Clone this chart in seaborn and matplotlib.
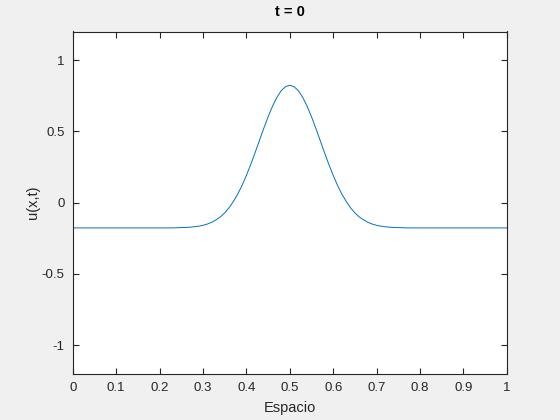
import numpy as np
import pandas as pd
import seaborn as sns
import matplotlib.pyplot as plt

# u(x, 0), x = 0.00 .. 1.00 in steps of 0.01
rise = [-0.176, -0.175, -0.174, -0.172, -0.169, -0.165, -0.159, -0.150, -0.138,
        -0.121, -0.100, -0.072, -0.036, 0.008, 0.060, 0.121, 0.191, 0.268,
        0.350, 0.436, 0.521, 0.602, 0.675, 0.737, 0.784, 0.813]
peak = [0.823]
u_vals = [-0.177] * 24 + rise + peak + rise[::-1] + [-0.177] * 24
x_vals = np.arange(len(u_vals)) / 100.0

xticks = [0, 0.1, 0.2, 0.3, 0.4, 0.5, 0.6, 0.7, 0.8, 0.9, 1]
xtick_labels = ["0", "0.1", "0.2", "0.3", "0.4", "0.5", "0.6", "0.7", "0.8", "0.9", "1"]
yticks = [-1, -0.5, 0, 0.5, 1]
ytick_labels = ["-1", "-0.5", "0", "0.5", "1"]

df = pd.DataFrame({"x": x_vals, "u": u_vals})

sns.set_style("ticks")
plt.rcParams["font.family"] = ["Liberation Sans", "DejaVu Sans"]
plt.rcParams["axes.unicode_minus"] = False

fig = plt.figure(figsize=(5.6, 4.2), dpi=100, facecolor="#f0f0f0")
ax = fig.add_axes([0.13, 0.11, 0.775, 0.815])
ax.set_facecolor("white")

sns.lineplot(data=df, x="x", y="u", color="#0072BD", linewidth=0.7, ax=ax)

ax.set_xlim(0, 1)
ax.set_ylim(-1.2, 1.2)
ax.set_xticks(xticks)
ax.set_xticklabels(xtick_labels)
ax.set_yticks(yticks)
ax.set_yticklabels(ytick_labels)

for s in ax.spines.values():
    s.set_visible(True)
    s.set_color("#262626")
    s.set_linewidth(0.8)
ax.tick_params(direction="in", length=4, width=0.8, colors="#262626",
               labelsize=9.5, top=True, right=True, pad=6)
for lbl in ax.get_xticklabels() + ax.get_yticklabels():
    lbl.set_color("#262626")

ax.set_xlabel("Espacio", fontsize=10.5, color="#262626", labelpad=5)
ax.set_ylabel("u(x,t)", fontsize=10.5, color="#262626", labelpad=1)
ax.set_title("t = 0", fontsize=10.5, fontweight="bold", color="black", pad=11)

fig.savefig("out.png", dpi=100, facecolor=fig.get_facecolor())
